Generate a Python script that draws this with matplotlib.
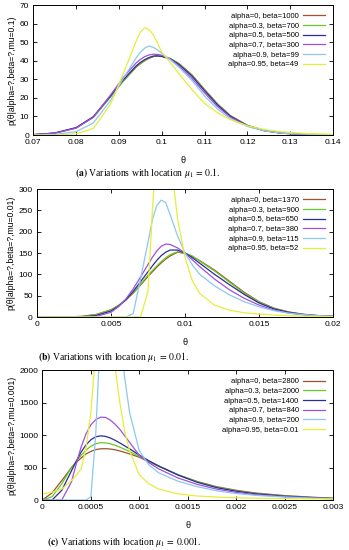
import matplotlib
matplotlib.use('Agg')
import matplotlib.pyplot as plt

# ---- panel (a): location mu_1 = 0.1 ----
x_a = [0.07, 0.075, 0.08, 0.084, 0.088, 0.091, 0.094, 0.095, 0.096, 0.097,
       0.098, 0.099, 0.1, 0.102, 0.104, 0.107, 0.11, 0.113, 0.116, 0.12,
       0.124, 0.128, 0.134, 0.14]
a_00 = [0.2, 1.0, 3.8, 9.5, 20.5, 29.0, 36.5, 38.4, 40.0, 41.3,
        42.2, 42.6, 42.4, 41.2, 38.5, 32.5, 24.5, 16.8, 10.5, 5.2,
        2.4, 1.0, 0.3, 0.1]
a_03 = [0.2, 1.0, 3.9, 9.6, 20.6, 29.2, 36.7, 38.6, 40.2, 41.4,
        42.3, 42.6, 42.4, 41.1, 38.3, 32.2, 24.2, 16.5, 10.3, 5.1,
        2.4, 1.0, 0.3, 0.1]
a_05 = [0.2, 1.1, 4.0, 9.9, 21.0, 29.7, 37.2, 39.1, 40.6, 41.7,
        42.5, 42.6, 42.3, 40.9, 38.0, 31.8, 23.8, 16.2, 10.1, 5.0,
        2.3, 1.0, 0.3, 0.1]
a_07 = [0.2, 1.0, 3.7, 9.6, 21.5, 31.0, 38.8, 40.7, 42.2, 43.1,
        43.5, 43.4, 43.0, 40.8, 37.2, 30.6, 22.6, 15.3, 9.6, 4.9,
        2.3, 1.0, 0.3, 0.1]
a_09 = [0.0, 0.3, 1.8, 6.5, 18.5, 30.5, 41.5, 44.6, 46.8, 47.9,
        47.2, 45.8, 44.0, 40.5, 36.5, 29.5, 21.0, 14.0, 8.8, 4.6,
        2.2, 1.0, 0.4, 0.1]
a_095 = [0.0, 0.0, 0.6, 3.5, 16.5, 33.0, 50.5, 55.5, 57.8, 56.8,
         54.0, 49.5, 44.5, 39.0, 33.0, 24.5, 17.0, 12.0, 8.3, 5.0,
         2.9, 1.7, 0.8, 0.4]
labels_a = ['alpha=0, beta=1000', 'alpha=0.3, beta=700', 'alpha=0.5, beta=500',
            'alpha=0.7, beta=300', 'alpha=0.9, beta=99', 'alpha=0.95, beta=49']

# ---- panel (b): location mu_1 = 0.01 ----
x_b = [0, 0.002, 0.003, 0.004, 0.005, 0.0055, 0.006, 0.0065, 0.007, 0.0075,
       0.0078, 0.0081, 0.0084, 0.0087, 0.009, 0.0095, 0.01, 0.0105, 0.011, 0.012,
       0.013, 0.014, 0.015, 0.016, 0.017, 0.018, 0.019, 0.02]
b_00 = [0, 0.2, 1.5, 6, 17, 27, 40, 56, 75, 95,
        106, 117, 127, 136, 143, 152, 149, 142, 132, 110,
        84, 58, 36, 21, 12, 6.5, 3.5, 1.8]
b_03 = [0, 0.1, 1.2, 5.5, 16.5, 27, 40, 57, 77, 98,
        109, 120, 130, 139, 146, 153, 150, 143, 131, 108,
        82, 56, 35, 20, 11.5, 6, 3.2, 1.6]
b_05 = [0, 0, 0.5, 3.5, 14, 25, 40, 60, 83, 106,
        120, 133, 144, 152, 157, 157, 150, 139, 126, 100,
        76, 53, 33, 19, 11, 5.8, 3, 1.5]
b_07 = [0, 0, 0, 1.5, 11, 24, 42, 66, 94, 123,
        140, 155, 166, 171, 170, 162, 150, 134, 118, 89,
        64, 44, 28, 16.5, 9.5, 5, 2.6, 1.3]
b_09 = [0, 0, 0, 0, 0, 0, 0, 8, 90, 175,
        228, 262, 274, 268, 240, 190, 150, 122, 100, 73,
        52, 36, 24, 15, 9, 5.5, 3, 1.6]
b_095 = [0, 0, 0, 0, 0, 0, 0, 0, 0.5, 60,
         250, 420, 520, 500, 380, 230, 140, 85, 55, 28,
         16, 10, 7, 4.5, 3, 2, 1.4, 1]
labels_b = ['alpha=0, beta=1370', 'alpha=0.3, beta=900', 'alpha=0.5, beta=650',
            'alpha=0.7, beta=380', 'alpha=0.9, beta=115', 'alpha=0.95, beta=52']

# ---- panel (c): location mu_1 = 0.001 ----
x_c = [0, 0.0001, 0.0002, 0.0003, 0.00035, 0.0004, 0.00045, 0.0005, 0.00055, 0.0006,
       0.00065, 0.0007, 0.00075, 0.0008, 0.00085, 0.0009, 0.001, 0.0011, 0.0012, 0.0014,
       0.0016, 0.0018, 0.002, 0.0022, 0.0025, 0.0028, 0.003]
c_00 = [0, 110, 300, 500, 580, 650, 710, 750, 778, 790,
        792, 787, 775, 757, 735, 712, 660, 590, 520, 390,
        285, 205, 150, 108, 68, 42, 28]
c_03 = [0, 50, 250, 500, 600, 690, 770, 830, 868, 884,
        882, 868, 845, 815, 782, 748, 675, 600, 525, 390,
        280, 198, 142, 100, 62, 38, 25]
c_05 = [0, 0, 150, 450, 600, 740, 850, 930, 975, 990,
        982, 958, 922, 880, 835, 790, 695, 605, 525, 385,
        272, 190, 135, 95, 58, 35, 22]
c_07 = [0, 0, 0, 280, 560, 820, 1020, 1160, 1240, 1278,
        1275, 1235, 1170, 1090, 990, 890, 690, 575, 480, 340,
        240, 168, 118, 83, 51, 31, 20]
c_09 = [0, 0, 0, 0, 0, 0, 0, 50, 1000, 2600,
        3800, 3900, 3500, 2600, 1880, 1350, 760, 540, 420, 290,
        205, 142, 100, 72, 45, 28, 18]
c_095 = [95, 120, 170, 300, 380, 480, 800, 1350, 2300, 3000,
         3200, 2700, 2050, 1500, 1050, 760, 390, 250, 170, 95,
         62, 45, 35, 28, 22, 18, 15]
labels_c = ['alpha=0, beta=2800', 'alpha=0.3, beta=2000', 'alpha=0.5, beta=1400',
            'alpha=0.7, beta=840', 'alpha=0.9, beta=200', 'alpha=0.95, beta=0.01']

colors = ['#a0522d', '#66cc22', '#2b2b9e', '#a050e0', '#8cc8f0', '#e6ee3a']

plt.rcParams['font.family'] = 'Liberation Sans'
plt.rcParams['mathtext.fontset'] = 'stix'


def draw_panel(ax, x, series, labels, xlim, ylim, xticks, yticks, ylabel):
    for y, lab, c in zip(series, labels, colors):
        ax.plot(x, y, color=c, lw=0.9, label=lab, solid_joinstyle='round')
    ax.set_xlim(xlim)
    ax.set_ylim(ylim)
    ax.set_xticks(xticks)
    ax.set_yticks(yticks)
    ax.set_xticklabels([('%g' % t) for t in xticks])
    ax.tick_params(direction='in', top=True, right=True, length=3,
                   width=0.6, labelsize=6, pad=3)
    for s in ax.spines.values():
        s.set_linewidth(0.7)
    ax.set_xlabel(u'\u03b8', fontsize=6.5, labelpad=7)
    ax.set_ylabel(ylabel, fontsize=6.2, labelpad=2)
    ax.legend(loc='upper right', frameon=False, markerfirst=False,
              fontsize=5.5, handlelength=2.9, handletextpad=0.6,
              labelspacing=0.3, borderaxespad=0.6)


if __name__ == '__main__':
    fig = plt.figure(figsize=(3.49, 5.5), dpi=100)

    ax1 = fig.add_axes([0.0955, 0.7545, 0.859, 0.2364])
    draw_panel(ax1, x_a, [a_00, a_03, a_05, a_07, a_09, a_095], labels_a,
               (0.07, 0.14), (0, 70),
               [0.07, 0.08, 0.09, 0.1, 0.11, 0.12, 0.13, 0.14],
               [0, 10, 20, 30, 40, 50, 60, 70],
               u'p(\u03b8|alpha=?,beta=?,mu=0.1)')

    ax2 = fig.add_axes([0.106, 0.4236, 0.848, 0.2327])
    draw_panel(ax2, x_b, [b_00, b_03, b_05, b_07, b_09, b_095], labels_b,
               (0, 0.02), (0, 300),
               [0, 0.005, 0.01, 0.015, 0.02],
               [0, 50, 100, 150, 200, 250, 300],
               u'p(\u03b8|alpha=?,beta=?,mu=0.01)')

    ax3 = fig.add_axes([0.1215, 0.0909, 0.8327, 0.2356])
    draw_panel(ax3, x_c, [c_00, c_03, c_05, c_07, c_09, c_095], labels_c,
               (0, 0.003), (0, 2000),
               [0, 0.0005, 0.001, 0.0015, 0.002, 0.0025, 0.003],
               [0, 500, 1000, 1500, 2000],
               u'p(\u03b8|alpha=?,beta=?,mu=0.001)')

    cap = dict(ha='center', va='center', fontsize=6.9, family='Liberation Serif')
    fig.text(148 / 349, 1 - 173 / 550,
             r'$\mathbf{(a)}$ Variations with location $\mu_1\,=\,0.1$.', **cap)
    fig.text(113 / 349, 1 - 357 / 550,
             r'$\mathbf{(b)}$ Variations with location $\mu_1\,=\,0.01$.', **cap)
    fig.text(124 / 349, 1 - 542 / 550,
             r'$\mathbf{(c)}$ Variations with location $\mu_1\,=\,0.001$.', **cap)

    fig.savefig('out.png', dpi=100)
